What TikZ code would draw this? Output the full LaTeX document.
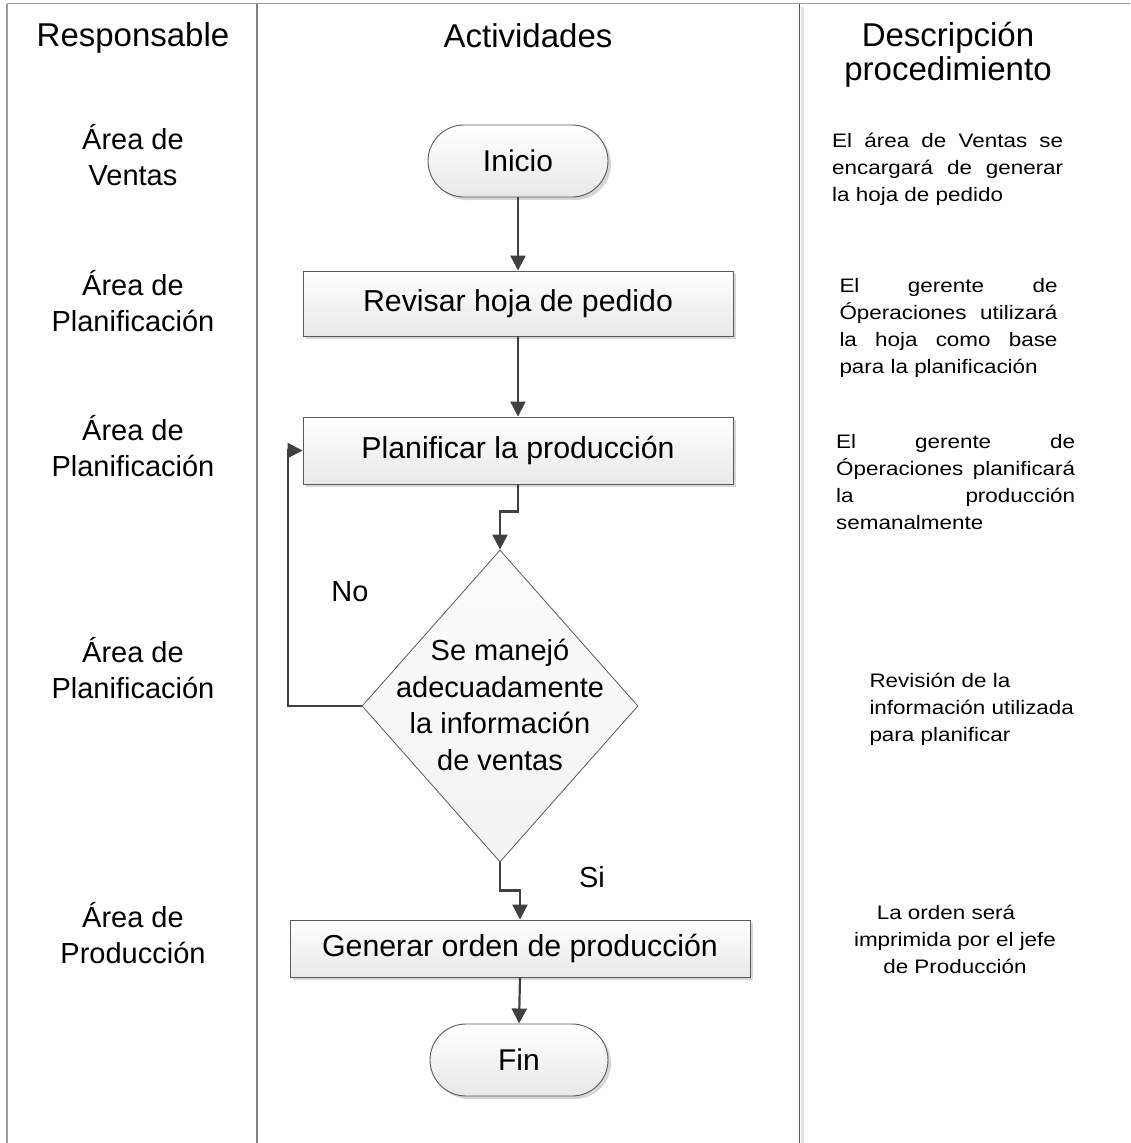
\documentclass[tikz,border=0pt]{standalone}
\usepackage{fontspec}
\setmainfont{Liberation Sans}
\newfontfamily\descfont[FakeStretch=1.15]{Liberation Sans}
\usetikzlibrary{shapes.geometric,arrows.meta,shadows}

\definecolor{laneline}{HTML}{9A9A9A}
\definecolor{lanemid}{HTML}{808080}
\definecolor{lanedark}{HTML}{555555}
\definecolor{laneshade}{HTML}{E4E4E4}
\definecolor{shapeline}{HTML}{5A5A5A}
\definecolor{flowline}{HTML}{404040}
\definecolor{shadowgray}{HTML}{D6D6D6}

\begin{document}
\begin{tikzpicture}[x=1pt,y=-1pt,
  boxshade/.style={draw=shapeline, line width=0.9pt, top color=white, bottom color=black!9,
    drop shadow={shadow xshift=3pt, shadow yshift=-3pt, fill=shadowgray, opacity=1}},
  process/.style={boxshade, rectangle, minimum height=65pt, inner sep=0pt,
    font=\fontsize{30.3}{34}\selectfont},
  terminal/.style={boxshade, rectangle, rounded corners=36pt, minimum width=180pt,
    minimum height=72pt, inner sep=0pt, font=\fontsize{30}{34}\selectfont},
  decision/.style={diamond, draw=shapeline, line width=0.8pt, top color=black!1,
    bottom color=black!5, minimum width=276pt, minimum height=312pt, inner sep=0pt},
  flow/.style={draw=flowline, line width=2.2pt, -{Triangle[length=15pt,width=15pt]}},
  lanehead/.style={font=\fontsize{33}{33}\selectfont, anchor=base, inner sep=0pt},
  lanelabel/.style={font=\fontsize{29}{35.5}\selectfont, align=center, inner sep=0pt},
  flowtext/.style={font=\fontsize{29}{36.5}\selectfont, align=center, inner sep=0pt},
  desc/.style={font=\descfont\fontsize{19.5}{27}\selectfont, inner sep=0pt},
]
\useasboundingbox (0,0) rectangle (1130,1143);

% swimlane frame
\draw[laneline, line width=1.5pt] (7,3.5) -- (1130,3.5);
\draw[laneline, line width=2pt] (7,3.5) -- (7,1143);
\draw[lanemid, line width=1.3pt] (257,3.5) -- (257,1143);
\fill[laneshade] (800.5,7) rectangle (804,1143);
\draw[lanedark, line width=1.4pt] (799.5,3.5) -- (799.5,1143);

% column headings
\node[lanehead] (hresp) at (133,46) {Responsable};
\node[lanehead] (hact) at (528,47) {Actividades};
\node[lanehead] (hdesc) at (948,46) {Descripción};
\node[lanehead] (hdesc2) at (948,80) {procedimiento};

% responsible areas
\node[lanelabel] (r1) at (133,155) {Área de\\Ventas};
\node[lanelabel] (r2) at (133,301) {Área de\\Planificación};
\node[lanelabel] (r3) at (133,446) {Área de\\Planificación};
\node[lanelabel] (r4) at (133,668) {Área de\\Planificación};
\node[lanelabel] (r5) at (133,933) {Área de\\Producción};

% flowchart
\node[terminal] (ini) at (518,161) {Inicio};
\node[process, minimum width=430pt] (rev) at (518,303.5) {Revisar hoja de pedido};
\node[process, minimum width=430pt, minimum height=67pt] (plan) at (518,450.5) {Planificar la producción};
\node[decision] (dec) at (500,706) {};
\node[flowtext] (dectext) at (500,705) {Se manejó\\adecuadamente\\la información\\de ventas};
\node[process, minimum width=460pt, minimum height=57pt] (gen) at (520,948.5) {Generar orden de producción};
\node[terminal, minimum width=178pt] (fin) at (519,1060) {Fin};

\node[flowtext] (lno) at (350,592) {No};
\node[flowtext] (lsi) at (592,877) {Si};

\draw[flow] (ini.south) -- (rev.north);
\draw[flow] (rev.south) -- (plan.north);
\draw[flow] (plan.south) -- ++(0,27) -| (dec.north);
\draw[flow] (dec.west) -- ++(-74,0) |- (plan.west);
\draw[flow] (dec.south) -- ++(0,28) -| (gen.north);
\draw[flow] (gen.south) -- (fin.north);

% procedure descriptions
\node[desc, anchor=north west, align=left] (d1) at (832,132.5)
  {\makebox[231pt][s]{El área de Ventas se}\\\makebox[231pt][s]{encargará de generar}\\la hoja de pedido};
\node[desc, anchor=north west, align=left] (d2) at (839.3,277.7)
  {\makebox[218pt][s]{El gerente de}\\\makebox[218pt][s]{Óperaciones utilizará}\\\makebox[218pt][s]{la hoja como base}\\para la planificación};
\node[desc, anchor=north west, align=left] (d3) at (836,434)
  {\makebox[239pt][s]{El gerente de}\\\makebox[239pt][s]{Óperaciones planificará}\\\makebox[239pt][s]{la producción}\\semanalmente};
\node[desc, anchor=north west, align=left] (d4) at (869.3,672.5)
  {Revisión de la\\información utilizada\\para planificar};
\node[desc, anchor=north, align=center] (d5) at (955,905)
  {La orden será\hspace*{18pt}\\imprimida por el jefe\\de Producción};
\end{tikzpicture}
\end{document}
